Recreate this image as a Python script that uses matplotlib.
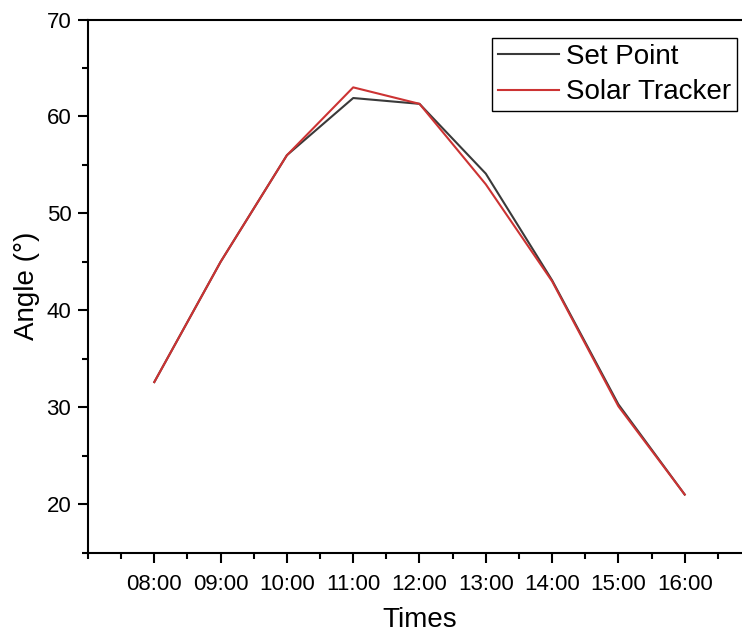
import matplotlib.pyplot as plt
from matplotlib.ticker import MultipleLocator

plt.switch_backend("Agg")
plt.rcParams["font.family"] = ["Liberation Sans", "DejaVu Sans"]

# Data
hours = [8, 9, 10, 11, 12, 13, 14, 15, 16]
time_labels = ["08:00", "09:00", "10:00", "11:00", "12:00",
               "13:00", "14:00", "15:00", "16:00"]
set_point = [32.6, 45.0, 56.0, 61.9, 61.3, 54.1, 43.1, 30.3, 21.0]
solar_tracker = [32.6, 45.0, 56.0, 63.0, 61.3, 53.0, 43.0, 30.1, 21.0]

W, H = 742, 637
fig = plt.figure(figsize=(W / 100, H / 100), dpi=100)
ax = fig.add_axes([88 / W, 1 - 552.7 / H, (751 - 88) / W, (552.7 - 19.5) / H])

ax.plot(hours, set_point, color="#3a3a3a", lw=1.5, label="Set Point")
ax.plot(hours, solar_tracker, color="#cc3333", lw=1.5, label="Solar Tracker")

ax.set_xlim(7, 17)
ax.set_ylim(15, 70)
ax.set_xticks(hours)
ax.set_xticklabels(time_labels)
ax.xaxis.set_minor_locator(MultipleLocator(0.5))
ax.yaxis.set_major_locator(MultipleLocator(10))
ax.yaxis.set_minor_locator(MultipleLocator(5))

for side in ["left", "bottom", "top", "right"]:
    ax.spines[side].set_linewidth(1.5)
ax.tick_params(which="major", direction="out", length=7, width=1.5,
               labelsize=16, pad=5)
ax.tick_params(which="minor", direction="out", length=4, width=1.5)
ax.tick_params(axis="x", pad=8)

ax.set_xlabel("Times", fontsize=20, labelpad=9)
ax.set_ylabel("Angle (°)", fontsize=20, labelpad=5)

leg = ax.legend(loc="upper right", bbox_to_anchor=(737 / W, 1 - 38 / H),
                bbox_transform=fig.transFigure, borderaxespad=0,
                fontsize=20, handlelength=2.2, handletextpad=0.25,
                labelspacing=0.33, borderpad=0.22, fancybox=False,
                framealpha=1, edgecolor="black")
leg.get_frame().set_linewidth(1.0)

fig.savefig("out.png", dpi=100)
